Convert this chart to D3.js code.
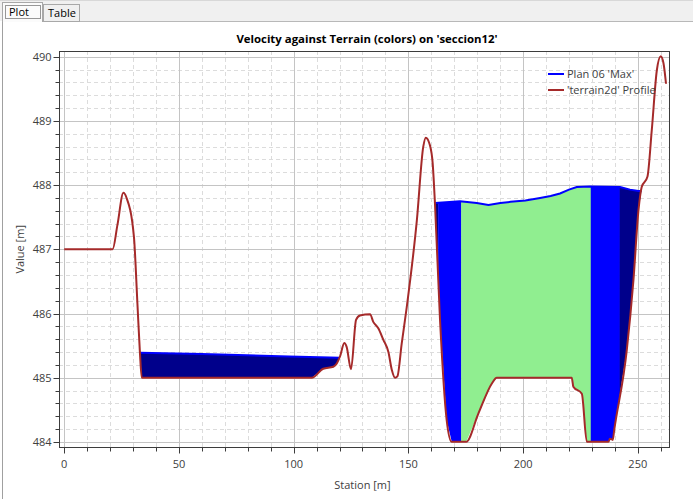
<!DOCTYPE html>
<html><head><meta charset="utf-8">
<script src="https://cdn.jsdelivr.net/npm/d3@7"></script>
<style>
html,body{margin:0;padding:0;background:#fff;}
svg{display:block;font-family:"Open Sans","Noto Sans",sans-serif;}
</style></head>
<body>
<svg id="c" width="693" height="499"></svg>
<script>
// ---------------- data ----------------
const title = "Velocity against Terrain (colors) on 'seccion12'";
const xLabel = "Station [m]";
const yLabel = "Value [m]";
const legendLabels = ["Plan 06 'Max'", "'terrain2d' Profile"];
const tabLabels = ["Plot", "Table"];

const terrainStation = [0, 21.1, 23.2, 25.8, 27.2, 30.4, 31.9, 33.0, 33.8, 107.9, 112.9, 117.3, 118.8, 120.2, 122.1, 123.1, 125.0, 127.2, 128.9, 133.3, 134.7, 136.9, 139.1, 141.3, 142.8, 144.2, 145.2, 147.1, 149.3, 153.7, 156.5, 157.6, 159.4, 160.6, 161.6, 163.8, 166.7, 168.9, 175.2, 180.5, 186.4, 188.5, 221.2, 221.9, 225.6, 227.8, 237.2, 237.9, 239.1, 239.7, 245.2, 248.1, 250.3, 251.7, 254.2, 256.1, 258.3, 260.0, 261.2, 262.3];
const terrainElev = [487.0, 487.0, 487.38, 487.88, 487.80, 487.19, 486.16, 485.39, 485.0, 485.0, 485.14, 485.17, 485.22, 485.33, 485.54, 485.48, 485.13, 485.90, 485.97, 485.99, 485.87, 485.77, 485.59, 485.40, 485.12, 485.0, 485.02, 485.53, 486.10, 487.45, 488.60, 488.74, 488.62, 488.34, 487.71, 485.90, 484.34, 484.0, 484.0, 484.44, 484.91, 485.0, 485.0, 484.86, 484.75, 484.0, 484.0, 484.05, 484.03, 484.18, 485.43, 486.52, 487.61, 487.97, 488.13, 488.86, 489.79, 490.01, 489.90, 489.58];

// water surface (Plan 06 'Max'), two wetted reaches
const wsLeftStation = [33.0, 60, 98, 120.2];
const wsLeftElev = [485.39, 485.37, 485.33, 485.31];
const wsRightStation = [161.7, 172.5, 179.8, 184.9, 190.1, 194.5, 201.0, 207.4, 212.0, 216.1, 220.0, 223.4, 229.2, 242.3, 246.6, 250.3, 251.6];
const wsRightElev = [487.72, 487.75, 487.72, 487.69, 487.72, 487.74, 487.76, 487.80, 487.83, 487.87, 487.93, 487.97, 487.98, 487.97, 487.93, 487.91, 487.91];

// velocity colour bands: start station, end station, colour
const bandStart = [33.0, 161.7, 163.0, 173.0, 229.5, 242.1];
const bandEnd   = [120.2, 163.0, 173.0, 229.5, 242.1, 251.6];
const bandColor = ["#00008b", "#00008b", "#0000ff", "#90ee90", "#0000ff", "#00008b"];

const xTicks = [0, 50, 100, 150, 200, 250];
const yTicks = [484, 485, 486, 487, 488, 489, 490];

// ---------------- layout ----------------
const W = 693, H = 499;
const m = {left: 59, right: 24, top: 51, bottom: 52};
const svg = d3.select("#c");

// tab strip
svg.append("rect").attr("x",0).attr("y",0).attr("width",W).attr("height",21).attr("fill","#f0f0f0");
svg.append("line").attr("x1",0).attr("x2",W).attr("y1",0.5).attr("y2",0.5).attr("stroke","#d8d8d8");
svg.append("line").attr("x1",2).attr("x2",W).attr("y1",21.5).attr("y2",21.5).attr("stroke","#b8b8b8");
svg.append("line").attr("x1",2.5).attr("x2",2.5).attr("y1",21).attr("y2",H).attr("stroke","#a0a0a0");
// Table tab
svg.append("rect").attr("x",43.5).attr("y",4.5).attr("width",36).attr("height",17).attr("fill","#f0f0f0").attr("stroke","#a8a8a8");
// Plot tab (selected)
svg.append("rect").attr("x",2.5).attr("y",2.5).attr("width",40).attr("height",19).attr("fill","#fbfbfb").attr("stroke","#a8a8a8");
svg.append("line").attr("x1",3).attr("x2",42).attr("y1",21.5).attr("y2",21.5).attr("stroke","#fbfbfb");
svg.append("rect").attr("x",5.5).attr("y",5.5).attr("width",35).attr("height",13).attr("fill","none").attr("stroke","#333").attr("stroke-dasharray","1,1");
svg.append("text").attr("x",9).attr("y",16).attr("font-size",11).attr("fill","#000").text(tabLabels[0]);
svg.append("text").attr("x",48).attr("y",17).attr("font-size",11).attr("fill","#000").text(tabLabels[1]);

const x = d3.scaleLinear().domain([-2.27, 263.6]).range([m.left, W - m.right]);
const y = d3.scaleLinear().domain([483.92, 490.09]).range([H - m.bottom, m.top]);
const pw = W - m.left - m.right, ph = H - m.top - m.bottom;

// grid
const g = svg.append("g");
const xMinor = d3.range(0, 264, 10).filter(v => v % 50 !== 0);
const yMinor = d3.range(484, 490.01, 0.2).map(v => +v.toFixed(1)).filter(v => Math.abs(v - Math.round(v)) > 1e-6);
g.selectAll(".xm").data(xMinor).join("line")
  .attr("x1", d => Math.round(x(d)) + 0.5).attr("x2", d => Math.round(x(d)) + 0.5)
  .attr("y1", m.top).attr("y2", H - m.bottom)
  .attr("stroke", "#dcdcdc").attr("stroke-dasharray", "4,3");
g.selectAll(".ym").data(yMinor).join("line")
  .attr("y1", d => Math.round(y(d)) + 0.5).attr("y2", d => Math.round(y(d)) + 0.5)
  .attr("x1", m.left).attr("x2", W - m.right)
  .attr("stroke", "#dcdcdc").attr("stroke-dasharray", "4,3");
g.selectAll(".xM").data(xTicks).join("line")
  .attr("x1", d => Math.round(x(d)) + 0.5).attr("x2", d => Math.round(x(d)) + 0.5)
  .attr("y1", m.top).attr("y2", H - m.bottom)
  .attr("stroke", "#c4c4c4");
g.selectAll(".yM").data(yTicks).join("line")
  .attr("y1", d => Math.round(y(d)) + 0.5).attr("y2", d => Math.round(y(d)) + 0.5)
  .attr("x1", m.left).attr("x2", W - m.right)
  .attr("stroke", "#c4c4c4");

// terrain interpolation
function terrainAt(s) {
  const i = d3.bisectRight(terrainStation, s);
  if (i <= 0) return terrainElev[0];
  if (i >= terrainStation.length) return terrainElev[terrainElev.length - 1];
  const s0 = terrainStation[i-1], s1 = terrainStation[i];
  const t = (s - s0) / (s1 - s0);
  return terrainElev[i-1] + t * (terrainElev[i] - terrainElev[i-1]);
}
function wsAt(st, el, s) {
  const i = d3.bisectRight(st, s);
  if (i <= 0) return el[0];
  if (i >= st.length) return el[el.length - 1];
  const t = (s - st[i-1]) / (st[i] - st[i-1]);
  return el[i-1] + t * (el[i] - el[i-1]);
}
function waterPoly(st, el) {
  const s0 = st[0], s1 = st[st.length - 1];
  const ss = Array.from(new Set(st.concat(terrainStation.filter(s => s > s0 && s < s1)))).sort((a,b)=>a-b);
  return ss.map(s => { const w = wsAt(st, el, s); return {s, top: w, bot: Math.min(terrainAt(s), w)}; });
}
const area = d3.area().x(d => x(d.s)).y0(d => y(d.bot)).y1(d => y(d.top));
const plotG = svg.append("g");
const defs = svg.append("defs");
const waters = [waterPoly(wsLeftStation, wsLeftElev), waterPoly(wsRightStation, wsRightElev)];
bandStart.forEach((b, i) => {
  const id = "band" + i;
  defs.append("clipPath").attr("id", id).append("rect")
    .attr("x", x(bandStart[i])).attr("y", m.top)
    .attr("width", x(bandEnd[i]) - x(bandStart[i]) + 0.3).attr("height", ph);
  waters.forEach(wp => {
    plotG.append("path").datum(wp).attr("d", area).attr("fill", bandColor[i]).attr("clip-path", `url(#${id})`);
  });
});

// water surface line
const line = d3.line().x(d => x(d[0])).y(d => y(d[1]));
[[wsLeftStation, wsLeftElev], [wsRightStation, wsRightElev]].forEach(([st, el]) => {
  plotG.append("path").datum(st.map((s, i) => [s, el[i]])).attr("d", line)
    .attr("fill", "none").attr("stroke", "#0000ff").attr("stroke-width", 2);
});
// terrain
plotG.append("path").datum(terrainStation.map((s, i) => [s, terrainElev[i]]))
  .attr("d", line.curve(d3.curveMonotoneX)).attr("fill", "none")
  .attr("stroke", "#a52a2a").attr("stroke-width", 2).attr("stroke-linejoin", "round");

// frame
svg.append("rect").attr("x", m.left + 0.5).attr("y", m.top + 0.5).attr("width", pw).attr("height", ph)
  .attr("fill", "none").attr("stroke", "#3c3c3c");

// axes
const xAxisG = svg.append("g").attr("transform", `translate(0,${H - m.bottom + 0.5})`);
xAxisG.selectAll(".t").data(d3.range(0, 264, 10)).join("line")
  .attr("x1", d => Math.round(x(d)) + 0.5).attr("x2", d => Math.round(x(d)) + 0.5)
  .attr("y1", 0).attr("y2", d => d % 50 === 0 ? 6 : 4).attr("stroke", "#3c3c3c");
xAxisG.selectAll(".l").data(xTicks).join("text")
  .attr("x", d => x(d)).attr("y", 20).attr("text-anchor", "middle")
  .attr("font-size", 11).attr("fill", "#404040").text(d => d);
const yAxisG = svg.append("g").attr("transform", `translate(${m.left + 0.5},0)`);
yAxisG.selectAll(".t").data(d3.range(484, 490.01, 0.2).map(v => +v.toFixed(1))).join("line")
  .attr("y1", d => Math.round(y(d)) + 0.5).attr("y2", d => Math.round(y(d)) + 0.5)
  .attr("x1", 0).attr("x2", d => Math.abs(d - Math.round(d)) < 1e-6 ? -6 : -4).attr("stroke", "#3c3c3c");
yAxisG.selectAll(".l").data(yTicks).join("text")
  .attr("x", -8).attr("y", d => y(d) + 4).attr("text-anchor", "end")
  .attr("font-size", 11).attr("fill", "#404040").text(d => d);

// labels
svg.append("text").attr("x", x(130)).attr("y", 489).attr("text-anchor", "middle")
  .attr("font-size", 11).attr("fill", "#404040").text(xLabel);
svg.append("text").attr("transform", `translate(24,${y(487)}) rotate(-90)`).attr("text-anchor", "middle")
  .attr("font-size", 11).attr("fill", "#404040").text(yLabel);
svg.append("text").attr("x", 367).attr("y", 43).attr("text-anchor", "middle")
  .attr("font-size", 11.4).attr("font-weight", "bold").attr("fill", "#000").text(title);

// legend
const legColors = ["#0000ff", "#a52a2a"];
legendLabels.forEach((t, i) => {
  const ly = 74 + i * 16;
  svg.append("line").attr("x1", 548).attr("x2", 564).attr("y1", ly).attr("y2", ly)
    .attr("stroke", legColors[i]).attr("stroke-width", 2);
  svg.append("text").attr("x", 567).attr("y", ly + 4).attr("font-size", 11).attr("fill", "#404040").text(t);
});
</script>
</body></html>
